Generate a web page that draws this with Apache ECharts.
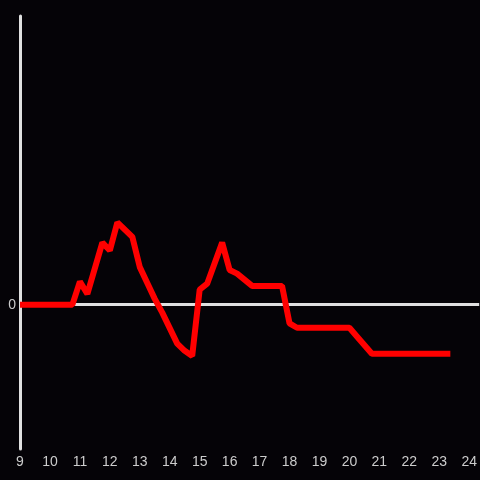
<!DOCTYPE html>
<html>
<head>
<meta charset="utf-8">
<script src="https://cdn.jsdelivr.net/npm/echarts@6/dist/echarts.min.js"></script>
<style>
  html, body { margin: 0; padding: 0; background: #050307; }
  #chart { width: 480px; height: 480px; }
</style>
</head>
<body>
<div id="chart"></div>
<script>
// hour of day (x) and value (y)
const hours = [9, 10.75, 11, 11.25, 11.75, 12, 12.25, 12.75, 13, 13.25, 13.5, 13.75, 14.25, 14.5, 14.75,
  15, 15.25, 15.75, 16, 16.25, 16.75, 17.75, 18, 18.25, 20, 20.25, 20.75, 23.37];
const values = [0, 0, 1.6, 0.75, 4.3, 3.75, 5.7, 4.7, 2.6, 1.5, 0.4, -0.55, -2.7, -3.2, -3.55,
  1.05, 1.45, 4.3, 2.4, 2.15, 1.3, 1.3, -1.3, -1.6, -1.6, -2.2, -3.4, -3.4];

const chart = echarts.init(document.getElementById('chart'));
const axisColor = '#e0e0e0';
const labelColor = '#cccccc';

const option = {
  backgroundColor: '#050307',
  animation: false,
  grid: {
    left: 20,
    right: 0,
    top: 16,
    bottom: 31,
  },
  xAxis: {
    type: 'value',
    min: 9,
    max: 24.333,
    interval: 1,
    axisLine: { show: false },
    axisTick: { show: false },
    splitLine: { show: false },
    axisLabel: {
      color: labelColor,
      fontSize: 14,
      margin: 6,
      showMaxLabel: false,
    },
  },
  yAxis: {
    type: 'value',
    min: -10,
    max: 20,
    interval: 10,
    axisLine: {
      show: true,
      onZero: false,
      lineStyle: { color: axisColor, width: 3 },
    },
    axisTick: { show: false },
    splitLine: { show: false },
    axisLabel: {
      color: labelColor,
      fontSize: 14,
      margin: 4,
      formatter: (v) => (v === 0 ? '0' : ''),
    },
  },
  series: [
    {
      type: 'line',
      data: hours.map((h, i) => [h, values[i]]),
      showSymbol: false,
      lineStyle: { color: '#ff0000', width: 6 },
      markLine: {
        silent: true,
        symbol: 'none',
        label: { show: false },
        lineStyle: { color: axisColor, width: 3, type: 'solid' },
        data: [{ yAxis: 0 }],
        z: 1,
      },
      z: 3,
    },
  ],
};
chart.setOption(option);
</script>
</body>
</html>
